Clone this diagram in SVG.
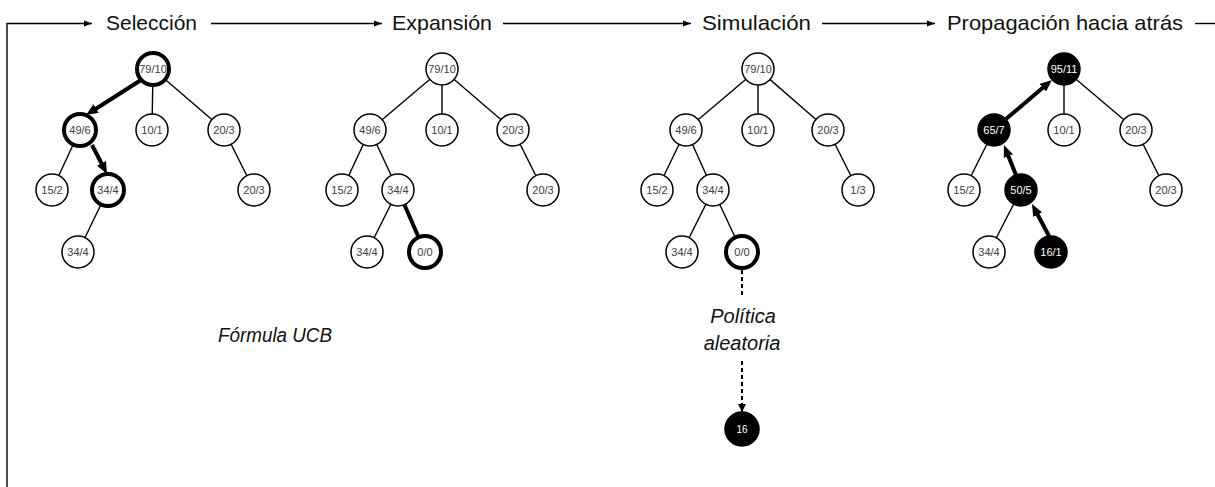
<svg xmlns="http://www.w3.org/2000/svg" width="1215" height="487" viewBox="0 0 1215 487">
<style>
.hdr{font-family:"Liberation Sans",Arial,sans-serif;font-size:21px;fill:#111}
.lab{font-family:"Liberation Sans",Arial,sans-serif;font-size:20px;font-style:italic;fill:#111}
.ln{stroke:#000;stroke-width:1.4;fill:none}
.thk{stroke:#000;stroke-width:4;fill:none}
.dash{stroke:#000;stroke-width:2;fill:none;stroke-dasharray:4 3}
.n circle{fill:#fff;stroke:#000;stroke-width:1.5}
.n.t circle{stroke-width:4}
.n.b circle{fill:#000}
.n text{font-family:"Liberation Sans",Arial,sans-serif;font-size:11px;fill:#404040;text-anchor:middle}
.n.b text{fill:#fff}
</style>
<defs>
<marker id="ah" markerUnits="userSpaceOnUse" markerWidth="12" markerHeight="10" refX="3" refY="5" orient="auto"><path d="M0,0 L12,5 L0,10 z" fill="#000"/></marker>
<marker id="hs" markerUnits="userSpaceOnUse" markerWidth="9" markerHeight="7" refX="8" refY="3.5" orient="auto"><path d="M0,0.5 L8,3.5 L0,6.5 z" fill="#000"/></marker>
<marker id="ds" markerUnits="userSpaceOnUse" markerWidth="9" markerHeight="8" refX="8" refY="4" orient="auto"><path d="M0,0 L8,4 L0,8 z" fill="#000"/></marker>
</defs>

<g id="header">
<polyline class="ln" points="7,487 7,23.5 92,23.5" marker-end="url(#hs)"/>
<line class="ln" x1="211" y1="23.5" x2="382" y2="23.5" marker-end="url(#hs)"/>
<line class="ln" x1="503" y1="23.5" x2="691" y2="23.5" marker-end="url(#hs)"/>
<line class="ln" x1="822" y1="23.5" x2="935" y2="23.5" marker-end="url(#hs)"/>
<line class="ln" x1="1195" y1="23.5" x2="1215" y2="23.5"/>
<text class="hdr" x="106" y="30" textLength="91" lengthAdjust="spacingAndGlyphs">Selección</text>
<text class="hdr" x="392" y="30" textLength="100" lengthAdjust="spacingAndGlyphs">Expansión</text>
<text class="hdr" x="702" y="30" textLength="109" lengthAdjust="spacingAndGlyphs">Simulación</text>
<text class="hdr" x="947" y="30" textLength="236" lengthAdjust="spacingAndGlyphs">Propagación hacia atrás</text>
</g>

<g id="connectors">
<line class="thk" x1="141" y1="80" x2="93.6" y2="110.2" marker-end="url(#ah)"/>
<line class="ln" x1="153" y1="69" x2="152" y2="130"/>
<line class="ln" x1="153" y1="69" x2="224" y2="130"/>
<line class="ln" x1="80" y1="130" x2="52" y2="190"/>
<line class="thk" x1="92" y1="145" x2="102.9" y2="166" marker-end="url(#ah)"/>
<line class="ln" x1="224" y1="130" x2="254" y2="190"/>
<line class="ln" x1="108" y1="190" x2="78" y2="252"/>
<line class="ln" x1="442" y1="69" x2="370" y2="130"/>
<line class="ln" x1="442" y1="69" x2="442" y2="130"/>
<line class="ln" x1="442" y1="69" x2="513" y2="130"/>
<line class="ln" x1="370" y1="130" x2="342" y2="190"/>
<line class="ln" x1="370" y1="130" x2="398" y2="190"/>
<line class="ln" x1="513" y1="130" x2="543" y2="190"/>
<line class="ln" x1="398" y1="190" x2="367" y2="252"/>
<line class="thk" x1="398" y1="190" x2="425" y2="252"/>
<line class="ln" x1="758" y1="69" x2="686" y2="130"/>
<line class="ln" x1="758" y1="69" x2="758" y2="130"/>
<line class="ln" x1="758" y1="69" x2="828" y2="130"/>
<line class="ln" x1="686" y1="130" x2="657" y2="190"/>
<line class="ln" x1="686" y1="130" x2="713" y2="190"/>
<line class="ln" x1="828" y1="130" x2="858" y2="190"/>
<line class="ln" x1="713" y1="190" x2="682" y2="252"/>
<line class="ln" x1="713" y1="190" x2="742" y2="252"/>
<line class="dash" x1="742" y1="270" x2="742" y2="296"/>
<line class="dash" x1="742" y1="361" x2="742" y2="412" marker-end="url(#ds)"/>
<line class="thk" x1="1006" y1="119" x2="1045.1" y2="85.8" marker-end="url(#ah)"/>
<line class="ln" x1="1064" y1="69" x2="1064" y2="130"/>
<line class="ln" x1="1064" y1="69" x2="1136" y2="130"/>
<line class="ln" x1="994" y1="130" x2="964" y2="190"/>
<line class="thk" x1="1016" y1="175" x2="1007.3" y2="153.4" marker-end="url(#ah)"/>
<line class="ln" x1="1136" y1="130" x2="1166" y2="190"/>
<line class="ln" x1="1021" y1="190" x2="989" y2="252"/>
<line class="thk" x1="1049" y1="236" x2="1036.2" y2="212" marker-end="url(#ah)"/>
</g>

<g id="t1-root" class="n t"><circle cx="153" cy="69" r="16"/><text x="153" y="72.8">79/10</text></g>
<g id="t1-a" class="n t"><circle cx="80" cy="130" r="16"/><text x="80" y="133.8">49/6</text></g>
<g id="t1-b" class="n"><circle cx="152" cy="130" r="16"/><text x="152" y="133.8">10/1</text></g>
<g id="t1-c" class="n"><circle cx="224" cy="130" r="16"/><text x="224" y="133.8">20/3</text></g>
<g id="t1-aa" class="n"><circle cx="52" cy="190" r="16"/><text x="52" y="193.8">15/2</text></g>
<g id="t1-ab" class="n t"><circle cx="108" cy="190" r="16"/><text x="108" y="193.8">34/4</text></g>
<g id="t1-ca" class="n"><circle cx="254" cy="190" r="16"/><text x="254" y="193.8">20/3</text></g>
<g id="t1-aba" class="n"><circle cx="78" cy="252" r="16"/><text x="78" y="255.8">34/4</text></g>

<g id="t2-root" class="n"><circle cx="442" cy="69" r="16"/><text x="442" y="72.8">79/10</text></g>
<g id="t2-a" class="n"><circle cx="370" cy="130" r="16"/><text x="370" y="133.8">49/6</text></g>
<g id="t2-b" class="n"><circle cx="442" cy="130" r="16"/><text x="442" y="133.8">10/1</text></g>
<g id="t2-c" class="n"><circle cx="513" cy="130" r="16"/><text x="513" y="133.8">20/3</text></g>
<g id="t2-aa" class="n"><circle cx="342" cy="190" r="16"/><text x="342" y="193.8">15/2</text></g>
<g id="t2-ab" class="n"><circle cx="398" cy="190" r="16"/><text x="398" y="193.8">34/4</text></g>
<g id="t2-ca" class="n"><circle cx="543" cy="190" r="16"/><text x="543" y="193.8">20/3</text></g>
<g id="t2-aba" class="n"><circle cx="367" cy="252" r="16"/><text x="367" y="255.8">34/4</text></g>
<g id="t2-abb" class="n t"><circle cx="425" cy="252" r="16"/><text x="425" y="255.8">0/0</text></g>

<g id="t3-root" class="n"><circle cx="758" cy="69" r="16"/><text x="758" y="72.8">79/10</text></g>
<g id="t3-a" class="n"><circle cx="686" cy="130" r="16"/><text x="686" y="133.8">49/6</text></g>
<g id="t3-b" class="n"><circle cx="758" cy="130" r="16"/><text x="758" y="133.8">10/1</text></g>
<g id="t3-c" class="n"><circle cx="828" cy="130" r="16"/><text x="828" y="133.8">20/3</text></g>
<g id="t3-aa" class="n"><circle cx="657" cy="190" r="16"/><text x="657" y="193.8">15/2</text></g>
<g id="t3-ab" class="n"><circle cx="713" cy="190" r="16"/><text x="713" y="193.8">34/4</text></g>
<g id="t3-ca" class="n"><circle cx="858" cy="190" r="16"/><text x="858" y="193.8">1/3</text></g>
<g id="t3-aba" class="n"><circle cx="682" cy="252" r="16"/><text x="682" y="255.8">34/4</text></g>
<g id="t3-abb" class="n t"><circle cx="742" cy="252" r="16"/><text x="742" y="255.8">0/0</text></g>
<g id="t3-sim" class="n b"><circle cx="742" cy="429" r="17"/><text x="742" y="432.5" style="font-size:10px">16</text></g>

<g id="t4-root" class="n b"><circle cx="1064" cy="69" r="16"/><text x="1064" y="72.8">95/11</text></g>
<g id="t4-a" class="n b"><circle cx="994" cy="130" r="16"/><text x="994" y="133.8">65/7</text></g>
<g id="t4-b" class="n"><circle cx="1064" cy="130" r="16"/><text x="1064" y="133.8">10/1</text></g>
<g id="t4-c" class="n"><circle cx="1136" cy="130" r="16"/><text x="1136" y="133.8">20/3</text></g>
<g id="t4-aa" class="n"><circle cx="964" cy="190" r="16"/><text x="964" y="193.8">15/2</text></g>
<g id="t4-ab" class="n b"><circle cx="1021" cy="190" r="16"/><text x="1021" y="193.8">50/5</text></g>
<g id="t4-ca" class="n"><circle cx="1166" cy="190" r="16"/><text x="1166" y="193.8">20/3</text></g>
<g id="t4-aba" class="n"><circle cx="989" cy="252" r="16"/><text x="989" y="255.8">34/4</text></g>
<g id="t4-abb" class="n b"><circle cx="1051" cy="252" r="16"/><text x="1051" y="255.8">16/1</text></g>

<g id="labels">
<text class="lab" x="218" y="342" textLength="114" lengthAdjust="spacingAndGlyphs">Fórmula UCB</text>
<text class="lab" x="743" y="323" text-anchor="middle">Política</text>
<text class="lab" x="742" y="350" text-anchor="middle">aleatoria</text>
</g>
</svg>
